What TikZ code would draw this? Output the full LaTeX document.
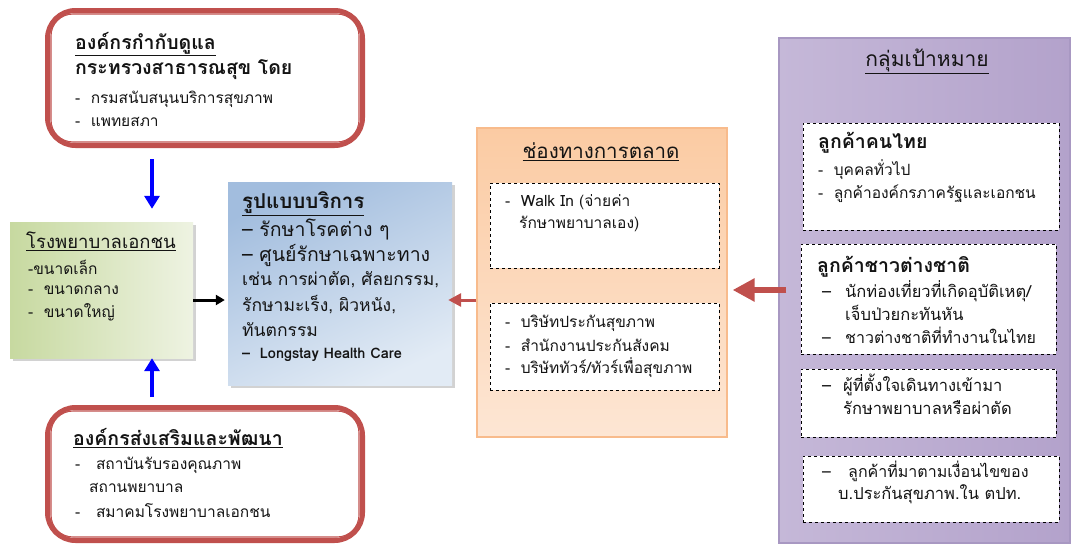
\documentclass[tikz,border=0pt]{standalone}
\usepackage{fontspec}
\setmainfont[Script=Thai]{Loma}
\usetikzlibrary{arrows.meta,shadows,calc}
\definecolor{myred}{HTML}{C0504D}
\definecolor{myblue}{HTML}{0000FF}
\definecolor{txt}{HTML}{141414}
\definecolor{gL}{HTML}{C7D9A0}
\definecolor{gR}{HTML}{EEF3E2}
\definecolor{bT}{HTML}{A2BDDE}
\definecolor{bB}{HTML}{E2EBF5}
\definecolor{oD}{HTML}{F8BB8C}
\definecolor{oT}{HTML}{FBCBA3}
\definecolor{oB}{HTML}{FDE6D4}
\definecolor{pD}{HTML}{A898C2}
\definecolor{pL}{HTML}{C5B8D8}
\definecolor{pM}{HTML}{ECE8F2}
\definecolor{pR}{HTML}{B3A2CB}
\newcommand{\dsh}[1]{\makebox[#1][l]{–}}
\tikzset{
  redbox/.style={draw=myred, line width=5pt, rounded corners=28pt, fill=white, minimum width=315pt, minimum height=135pt, inner sep=0pt},
  redinner/.style={draw=myred, line width=1.1pt, rounded corners=22pt},
  greenbox/.style={draw=none, left color=gL, right color=gR, minimum width=183pt, minimum height=136pt, inner sep=0pt,
     drop shadow={shadow xshift=3pt, shadow yshift=-3pt, opacity=0.35}},
  bluebox/.style={draw=none, top color=bT, bottom color=bB, shading angle=25, minimum width=224pt, minimum height=203pt, inner sep=0pt,
     drop shadow={shadow xshift=3pt, shadow yshift=-3pt, opacity=0.35}},
  orangebox/.style={draw=oD, line width=1.2pt, top color=oT, bottom color=oB, minimum width=250pt, minimum height=309pt, inner sep=0pt},
  purplebox/.style={draw=pD, line width=1.2pt, left color=pL, middle color=pM, right color=pR, minimum width=291pt, minimum height=505pt, inner sep=0pt},
  dbox/.style={draw=black, dashed, line width=0.8pt, fill=white, inner sep=0pt},
  tx/.style={anchor=west, inner sep=0pt, text=txt, font=\fontsize{15.5}{18}\selectfont},
  ttl/.style={anchor=west, inner sep=0pt, text=txt, font=\fontsize{19.5}{22}\selectfont\bfseries},
  bluearr/.style={draw=myblue, line width=4pt, -{Triangle[width=15pt,length=13pt]}},
  blackarr/.style={draw=black, line width=3pt, -{Triangle[width=10pt,length=9pt]}},
  redarr/.style={draw=myred, line width=3pt, -{Triangle[width=13pt,length=13pt]}},
  bigredarr/.style={draw=myred, line width=6pt, -{Triangle[width=22pt,length=22pt]}},
}
\begin{document}
\begin{tikzpicture}[x=1pt,y=-1pt]
\useasboundingbox[fill=white] (0,0) rectangle (1075,546);

% ---------- boxes ----------
\node[redbox] (reg) at (205,78) {};
\draw[redinner] ([shift={(6,6)}]reg.north west) rectangle ([shift={(-6,-6)}]reg.south east);
\node[redbox, minimum height=133pt] (prom) at (205,474) {};
\draw[redinner] ([shift={(6,6)}]prom.north west) rectangle ([shift={(-6,-6)}]prom.south east);
\node[greenbox] (hosp) at (101.5,290) {};
\node[bluebox] (serv) at (340,283.5) {};
\node[orangebox] (chan) at (602,282.5) {};
\node[purplebox] (tgt) at (924.5,290.5) {};

\node[dbox, minimum width=229pt, minimum height=85pt] (c1) at (604.5,225.5) {};
\node[dbox, minimum width=229pt, minimum height=87pt] (c2) at (604.5,346.5) {};
\node[dbox, minimum width=256pt, minimum height=107pt] (t1) at (931,176.5) {};
\node[dbox, minimum width=255pt, minimum height=110pt] (t2) at (928.5,299) {};
\node[dbox, minimum width=255pt, minimum height=68pt] (t3) at (928.5,403) {};
\node[dbox, minimum width=256pt, minimum height=66pt] (t4) at (931,489) {};

% ---------- texts: regulator ----------
\node[ttl] (r1) at (75,44) {\underline{องค์กรกำกับดูแล}};
\node[ttl] (r2) at (75,70) {กระทรวงสาธารณสุข โดย};
\node[tx] (r3) at (75,99) {-\ \ กรมสนับสนุนบริการสุขภาพ};
\node[tx] (r4) at (75,122) {-\ \ แพทยสภา};

% ---------- promotion ----------
\node[ttl] (p1) at (73,438) {\underline{องค์กรส่งเสริมและพัฒนา}};
\node[tx] (p2) at (75,465) {-\ \ \ สถาบันรับรองคุณภาพ};
\node[tx] (p3) at (89,488) {สถานพยาบาล};
\node[tx] (p4) at (75,511) {-\ \ \ สมาคมโรงพยาบาลเอกชน};

% ---------- hospital ----------
\node[tx, font=\fontsize{18.5}{21}\selectfont] (h1) at (26,241) {\underline{โรงพยาบาลเอกชน}};
\node[tx] (h2) at (28,267) {-ขนาดเล็ก};
\node[tx] (h3) at (28,290) {-\ \ ขนาดกลาง};
\node[tx] (h4) at (28,312) {-\ \ ขนาดใหญ่};

% ---------- service ----------
\node[ttl, font=\fontsize{20.5}{23}\selectfont\bfseries] (s1) at (242,204) {\underline{รูปแบบบริการ}};
\node[tx, font=\fontsize{19.5}{22}\selectfont] (s2) at (242,229) {–\ รักษาโรคต่าง ๆ};
\node[tx, font=\fontsize{19.5}{22}\selectfont] (s3) at (242,255) {–\ ศูนย์รักษาเฉพาะทาง};
\node[tx, font=\fontsize{17.5}{20}\selectfont] (s4) at (242,280) {เช่น การผ่าตัด, ศัลยกรรม,};
\node[tx, font=\fontsize{17.5}{20}\selectfont] (s5) at (242,305) {รักษามะเร็ง, ผิวหนัง,};
\node[tx, font=\fontsize{17.5}{20}\selectfont] (s6) at (242,330) {ทันตกรรม};
\node[tx, font=\fontsize{14.5}{17}\selectfont\bfseries] (s7) at (242,355) {–\ \ Longstay Health Care};

% ---------- channel ----------
\node[anchor=center, inner sep=0pt, text=txt, font=\fontsize{20.5}{23}\selectfont] (ct) at (601,152) {\underline{ช่องทางการตลาด}};
\node[tx] (c1a) at (505,202) {-\ \ Walk In (จ่ายค่า};
\node[tx] (c1b) at (519,224) {รักษาพยาบาลเอง)};
\node[tx] (c2a) at (505,323) {-\ \ บริษัทประกันสุขภาพ};
\node[tx] (c2b) at (505,345) {-\ \ สำนักงานประกันสังคม};
\node[tx] (c2c) at (505,368) {-\ \ บริษัททัวร์/ทัวร์เพื่อสุขภาพ};

% ---------- target ----------
\node[anchor=center, inner sep=0pt, text=txt, font=\fontsize{21}{24}\selectfont] (tt) at (927,61) {\underline{กลุ่มเป้าหมาย}};
\node[ttl] (t1a) at (818,143) {ลูกค้าคนไทย};
\node[tx] (t1b) at (818,170) {-\ \ บุคคลทั่วไป};
\node[tx] (t1c) at (818,194) {-\ \ ลูกค้าองค์กรภาครัฐและเอกชน};
\node[ttl] (t2a) at (817,267) {ลูกค้าชาวต่างชาติ};
\node[tx, font=\fontsize{16.5}{19}\selectfont] (t2b) at (822,291) {\dsh{23pt}นักท่องเที่ยวที่เกิดอุบัติเหตุ/};
\node[tx, font=\fontsize{16.5}{19}\selectfont] (t2c) at (845,313) {เจ็บป่วยกะทันหัน};
\node[tx, font=\fontsize{16}{19}\selectfont] (t2e) at (822,335) {\dsh{23pt}ชาวต่างชาติที่ทำงานในไทย};
\node[tx, font=\fontsize{16.5}{19}\selectfont] (t3a) at (822,385) {\dsh{21pt}ผู้ที่ตั้งใจเดินทางเข้ามา};
\node[tx, font=\fontsize{16.5}{19}\selectfont] (t3b) at (843,408) {รักษาพยาบาลหรือผ่าตัด};
\node[tx, font=\fontsize{16}{19}\selectfont] (t4a) at (822,471) {\dsh{26pt}ลูกค้าที่มาตามเงื่อนไขของ};
\node[tx, font=\fontsize{16.5}{19}\selectfont] (t4b) at (838,494) {บ.ประกันสุขภาพ.ใน ตปท.};

% ---------- connectors ----------
\coordinate (ax) at (152,0);
\coordinate (ay) at (0,300);
\coordinate (by) at (0,290);
\draw[bluearr, shorten <=11pt, shorten >=13pt] (reg.south -| ax) -- (hosp.north -| ax);
\draw[bluearr, shorten <=8pt] (prom.north -| ax) -- (hosp.south -| ax);
\draw[blackarr, shorten >=3pt] (hosp.east |- ay) -- (serv.west |- ay);
\draw[redarr, shorten >=-4pt] (chan.west |- ay) -- (serv.east |- ay);
\draw[bigredarr, shorten <=-8pt, shorten >=5pt] (tgt.west |- by) -- (chan.east |- by);
\end{tikzpicture}
\end{document}
